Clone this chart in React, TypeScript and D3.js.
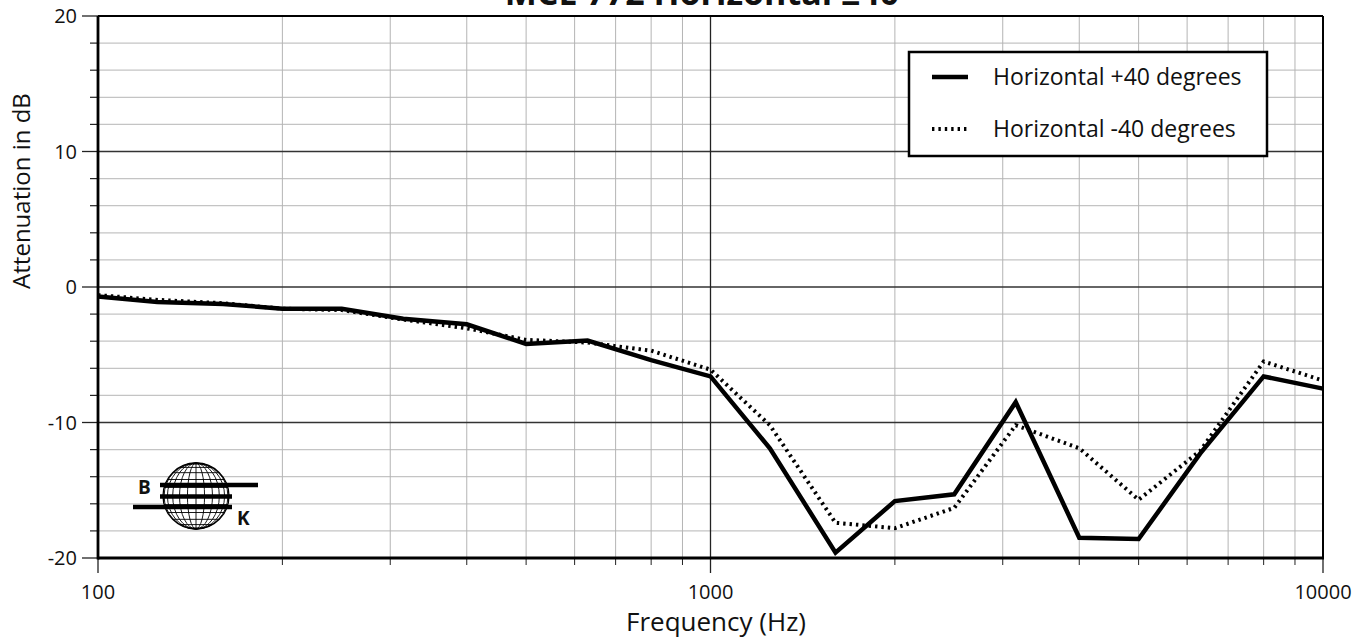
import React from "react";
import * as d3 from "d3";

// One-third-octave measurement frequencies (Hz)
const frequencies = [100, 125, 160, 200, 250, 315, 400, 500, 630, 800, 1000, 1250, 1600, 2000, 2500, 3150, 4000, 5000, 6300, 8000, 10000];
// Attenuation in dB at +40 degrees (solid) and -40 degrees (dotted)
const plus40 = [-0.7, -1.1, -1.25, -1.6, -1.6, -2.35, -2.75, -4.2, -3.95, -5.4, -6.6, -11.9, -19.6, -15.8, -15.3, -8.5, -18.5, -18.6, -12.3, -6.6, -7.5];
const minus40 = [-0.6, -0.95, -1.2, -1.6, -1.7, -2.4, -3.05, -3.9, -4.1, -4.7, -6.1, -10.2, -17.4, -17.8, -16.3, -10.2, -11.9, -15.7, -12.1, -5.5, -6.9];

const xTickLabels = ["100", "1000", "10000"];
const yTickLabels = ["-20", "-10", "0", "10", "20"];
const legendLabels = ["Horizontal +40 degrees", "Horizontal -40 degrees"];
const title = "MCE 772 Horizontal \u00b140";
const xTitle = "Frequency (Hz)";
const yTitle = "Attenuation in dB";

const W = 1369;
const H = 640;
const M = { left: 98, right: 1323, top: 16, bottom: 558 };
const FONT = "'Open Sans', 'Noto Sans', sans-serif";

export default function App() {
  const x = d3.scaleLog().domain([100, 10000]).range([M.left, M.right]);
  const y = d3.scaleLinear().domain([-20, 20]).range([M.bottom, M.top]);

  const minorX: number[] = [];
  for (const dec of [100, 1000]) for (let k = 2; k <= 9; k++) minorX.push(dec * k);
  const majorX = xTickLabels.map(Number);
  const yMinor = d3.range(-20, 21, 2).filter((v) => v % 10 !== 0);
  const yMajor = yTickLabels.map(Number);

  const line = d3
    .line<number>()
    .x((_, i) => x(frequencies[i]))
    .y((d) => y(d));

  // Globe icon geometry
  const gx = 196;
  const gy = 496;
  const gr = 33;
  const meridians = [15, 30, 45, 60, 75].map((a) => gr * Math.sin((a * Math.PI) / 180));
  const parallels = [-75, -60, -45, -30, -15, 0, 15, 30, 45, 60, 75].map((a) => (a * Math.PI) / 180);

  return (
    <svg width={W} height={H} style={{ display: "block", position: "absolute", left: 0, top: 0, background: "#fff" }}>
      <rect x={0} y={0} width={W} height={H} fill="#fff" />
      {/* grid */}
      {yMinor.map((v) => (
        <line key={"gy" + v} x1={M.left} x2={M.right} y1={y(v)} y2={y(v)} stroke="#c4c4c4" strokeWidth={1.2} />
      ))}
      {minorX.map((v) => (
        <line key={"gx" + v} x1={x(v)} x2={x(v)} y1={M.top} y2={M.bottom} stroke="#b4b4b4" strokeWidth={1} />
      ))}
      {yMajor.map((v) => (
        <line key={"gY" + v} x1={M.left} x2={M.right} y1={y(v)} y2={y(v)} stroke="#333" strokeWidth={1.3} />
      ))}
      <line x1={x(1000)} x2={x(1000)} y1={M.top} y2={M.bottom} stroke="#222" strokeWidth={1.3} />

      {/* ticks */}
      {yMinor.map((v) => (
        <line key={"ty" + v} x1={M.left - 8} x2={M.left} y1={y(v)} y2={y(v)} stroke="#222" strokeWidth={1.2} />
      ))}
      {yMajor.map((v) => (
        <line key={"tY" + v} x1={M.left - 16} x2={M.left} y1={y(v)} y2={y(v)} stroke="#222" strokeWidth={1.3} />
      ))}
      {minorX.map((v) => (
        <line key={"tx" + v} x1={x(v)} x2={x(v)} y1={M.bottom} y2={M.bottom + 7} stroke="#222" strokeWidth={1} />
      ))}
      {majorX.map((v) => (
        <line key={"tX" + v} x1={x(v)} x2={x(v)} y1={M.bottom} y2={M.bottom + 15} stroke="#222" strokeWidth={1.3} />
      ))}

      {/* frame */}
      <line x1={M.left} x2={M.right} y1={M.top} y2={M.top} stroke="#000" strokeWidth={2} />
      <line x1={M.right} x2={M.right} y1={M.top} y2={M.bottom} stroke="#000" strokeWidth={2} />
      <line x1={M.left} x2={M.left} y1={M.top} y2={M.bottom + 1.5} stroke="#000" strokeWidth={2.8} />
      <line x1={M.left} x2={M.right + 1} y1={M.bottom} y2={M.bottom} stroke="#000" strokeWidth={3} />

      {/* globe icon */}
      <g stroke="#000" fill="none">
        <circle cx={gx} cy={gy} r={gr} fill="#fff" strokeWidth={1.3} />
        {meridians.map((rx, i) => (
          <ellipse key={"m" + i} cx={gx} cy={gy} rx={rx} ry={gr} strokeWidth={0.9} />
        ))}
        <line x1={gx} x2={gx} y1={gy - gr} y2={gy + gr} strokeWidth={0.9} />
        {parallels.map((a, i) => {
          const yy = gy + gr * Math.sin(a);
          const hw = gr * Math.cos(a);
          return <line key={"p" + i} x1={gx - hw} x2={gx + hw} y1={yy} y2={yy} strokeWidth={0.9} />;
        })}
        <line x1={160} x2={258} y1={485} y2={485} strokeWidth={4.5} />
        <line x1={160} x2={232} y1={496.5} y2={496.5} strokeWidth={4.5} />
        <line x1={133} x2={232} y1={507} y2={507} strokeWidth={4.5} />
      </g>
      <text x={138} y={494} fontFamily={FONT} fontWeight="bold" fontSize={19} fill="#111">B</text>
      <text x={237} y={525} fontFamily={FONT} fontWeight="bold" fontSize={19} fill="#111">K</text>

      {/* data */}
      <path d={line(minus40) || ""} fill="none" stroke="#000" strokeWidth={4} strokeDasharray="2.4 4" />
      <path d={line(plus40) || ""} fill="none" stroke="#000" strokeWidth={4.5} strokeLinejoin="miter" />

      {/* tick labels */}
      {yTickLabels.map((t) => (
        <text key={"yl" + t} x={77} y={y(+t)} dy="0.35em" textAnchor="end" fontFamily={FONT} fontSize={20} fill="#111">
          {t}
        </text>
      ))}
      {xTickLabels.map((t) => (
        <text key={"xl" + t} x={x(+t)} y={599} textAnchor="middle" fontFamily={FONT} fontSize={20} fill="#111">
          {t}
        </text>
      ))}

      {/* titles */}
      <text x={702} y={5} textAnchor="middle" fontFamily={FONT} fontWeight="bold" fontSize={34} fill="#111">
        {title}
      </text>
      <text x={716} y={631} textAnchor="middle" fontFamily={FONT} fontSize={26} fill="#111">
        {xTitle}
      </text>
      <text transform="translate(30,191) rotate(-90)" textAnchor="middle" fontFamily={FONT} fontSize={24} fill="#111">
        {yTitle}
      </text>

      {/* legend */}
      <rect x={909} y={52} width={358} height={104} fill="#fff" stroke="#000" strokeWidth={2.5} />
      <line x1={932} x2={968} y1={77} y2={77} stroke="#000" strokeWidth={4.5} />
      <line x1={932} x2={968} y1={129} y2={129} stroke="#000" strokeWidth={4} strokeDasharray="2.4 4" />
      <text x={993} y={85} fontFamily={FONT} fontSize={23} fill="#111">{legendLabels[0]}</text>
      <text x={993} y={137} fontFamily={FONT} fontSize={23} fill="#111">{legendLabels[1]}</text>
    </svg>
  );
}
